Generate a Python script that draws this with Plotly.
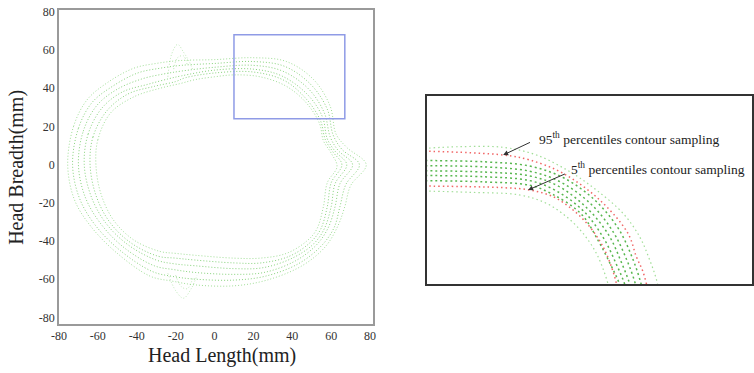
import plotly.graph_objects as go

# ---------------- main chart contour rings (Head Length, Head Breadth in mm) ----------------
ring1_x = [-75.5, -72.5, -65.5, -55, -41.5, -30, -18, 0, 20, 37, 51, 59.5, 62.5, 68, 78, 70, 67, 63.5, 57, 45, 27, 10, -10, -22, -33, -50, -63.5, -72, -75.5]
ring1_y = [0, 20, 34, 43, 50.5, 53, 54.5, 55, 56, 54, 44.5, 30.5, 16, 9, 0, -11, -22, -32, -43, -53, -60.5, -63.5, -63, -61, -58.5, -46.5, -32.5, -18.5, 0]
ring2_x = [-73, -70, -63, -52.5, -39.5, -28, -17, 0, 20, 36, 49.5, 58, 61, 65.5, 74.5, 67.5, 64.5, 61.5, 55, 43, 26, 10, -10, -22, -32, -48.5, -61.5, -69.5, -73]
ring2_y = [0, 19, 32.5, 41, 48, 50.5, 52, 53, 54, 51.5, 42, 29, 15.5, 8, 0, -10.5, -22, -33, -42.5, -52, -58.5, -60.5, -60, -58.5, -56, -45, -31.5, -17.5, 0]
ring3_x = [-70, -67.5, -60.5, -50, -37, -26, -17, 0, 20, 35, 48.5, 56.5, 59.5, 63.5, 71, 64.5, 62, 58.5, 52.5, 41.5, 25.5, 10, -10, -21, -31, -46.5, -58.5, -66.5, -70]
ring3_y = [0, 17.5, 31, 39.5, 45, 47.5, 49, 51, 52, 49, 39.5, 27, 14.5, 7.5, 0, -10, -22, -33, -42, -50.5, -56.5, -57.5, -56.5, -55, -53, -43.5, -31, -17, 0]
ring4_x = [-67, -65, -58, -47.5, -34.5, -23.5, -17, 0, 20, 34.5, 48, 55.5, 58, 62, 68, 62, 60, 56.5, 51, 40, 25, 10, -10, -20.5, -30, -44.5, -56, -63.5, -67]
ring4_y = [0, 16, 29.5, 38, 42, 45, 46.5, 49.5, 50, 46.5, 36.5, 25, 13.5, 7, 0, -10, -22, -33.5, -41.5, -49, -54, -54.5, -53, -52, -50, -42, -30.5, -16.5, 0]
ring5_x = [-64, -62.5, -55.5, -44.5, -31, -20, -15, 0, 20, 36, 47.5, 54.5, 57, 61, 65.5, 60, 58, 54.5, 49, 38.5, 24, 10, -10, -20, -29, -43, -54, -61, -64]
ring5_y = [0, 14.5, 28, 37, 41, 43.5, 45.5, 48, 48.5, 44, 34, 23, 13, 6.5, 0, -9.5, -22, -34, -41, -48, -51.5, -51.5, -50, -49, -48, -41, -30, -16, 0]
ring6_x = [-61, -60, -53.5, -41.5, -28, -17.5, -10, 0, 10, 23.5, 37, 47.5, 54, 56, 60, 63, 58, 56, 52.5, 47.5, 37, 23.5, 10, -10, -20, -28, -41.5, -52, -58.5, -61]
ring6_y = [0, 13, 27, 35.5, 40, 42.5, 44.5, 46, 47, 46, 41, 32, 21.5, 12.5, 6, -1, -9.5, -22, -34, -40, -46.5, -49, -49, -47.5, -46.5, -45.5, -39.5, -29, -15, 0]

ear_top_x = [-24, -22, -19, -16, -13, -11]
ear_top_y = [46, 58, 63, 59, 54, 49]
ear_top2_x = [-21, -19, -16, -14]
ear_top2_y = [50, 56, 57, 52]
ear_bot_x = [-24, -20, -16, -12, -9]
ear_bot_y = [-57, -66, -70, -65, -58]
ear_bot2_x = [-20, -17, -14, -11]
ear_bot2_y = [-58, -64, -65, -59]

# zoom window on main chart
zoom_x = [10, 67]
zoom_y = [24, 68]

# ---------------- inset contours ----------------
in_gout_x = [8.78, 15.77, 23.34, 29.17, 35.0, 39.66, 44.32, 47.23, 49.0, 50.2, 51.02]
in_gout_y = [55.68, 56.14, 55.99, 54.19, 50.29, 46.0, 40.54, 35.08, 29.62, 24.94, 19.48]
in_p95_x = [8.78, 23.34, 28.0, 33.83, 40.25, 45.19, 46.66, 47.82, 48.69, 49.27]
in_p95_y = [55.13, 54.19, 53.02, 49.9, 43.66, 35.86, 30.4, 26.89, 22.6, 19.48]
in_m1_x = [8.78, 20, 28, 34, 39.5, 43.5, 46, 47.5, 48.3]
in_m1_y = [52.9, 52.6, 51.6, 48.8, 43.5, 37, 30, 24, 19.5]
in_m2_x = [8.78, 20, 28, 33.5, 38.8, 42.6, 45, 46.5, 47.3]
in_m2_y = [51.7, 51.4, 50.4, 47.8, 42.6, 36.2, 29.6, 24, 19.5]
in_m3_x = [8.78, 20, 28, 33, 38, 41.8, 44, 45.5, 46.3]
in_m3_y = [50.5, 50.2, 49.3, 46.9, 41.8, 35.5, 29.2, 24, 19.5]
in_m4_x = [8.78, 20, 28, 32.5, 37.4, 40.9, 43.1, 44.6, 45.4]
in_m4_y = [49.4, 49.1, 48.2, 45.9, 41.1, 34.8, 28.8, 24, 19.5]
in_m5_x = [8.78, 20, 28, 32, 37, 40, 42.2, 43.7, 44.5]
in_m5_y = [48.2, 47.9, 47.1, 45, 40.4, 34.1, 28.4, 24, 19.5]
in_p5_x = [8.78, 17.51, 23.34, 28.0, 32.08, 35.58, 38.49, 40.82, 42.29, 43.16, 43.74]
in_p5_y = [46.94, 46.78, 46.55, 46.0, 44.44, 41.32, 37.42, 32.74, 28.06, 24.16, 19.48]
in_gin_x = [8.78, 17.51, 26.25, 30.92, 34.42, 37.33, 39.66, 41.11, 41.99, 42.57]
in_gin_y = [45.77, 45.46, 44.83, 42.88, 39.76, 35.86, 31.18, 26.5, 22.6, 19.48]

label_95 = "95<sup>th</sup> percentiles contour sampling"
label_5 = "5<sup>th</sup> percentiles contour sampling"

FONT = "Liberation Serif, Times New Roman, serif"
LIGHT_GREEN = "rgba(110,205,95,0.65)"
EAR_GREEN = "rgba(110,205,95,0.45)"
MID_GREEN = "rgba(95,195,80,0.75)"
DARK_GREEN = "rgba(70,175,60,0.9)"
RED = "rgba(240,95,95,0.95)"

fig = go.Figure()

rings = [(ring1_x, ring1_y), (ring2_x, ring2_y), (ring3_x, ring3_y),
         (ring4_x, ring4_y), (ring5_x, ring5_y), (ring6_x, ring6_y)]
for i, (rx, ry) in enumerate(rings):
    fig.add_trace(go.Scatter(
        x=rx, y=ry, mode="lines", line_shape="spline",
        line=dict(color=LIGHT_GREEN if i in (0, 5) else MID_GREEN, width=1, dash="1px,2px"),
        xaxis="x", yaxis="y", hoverinfo="skip", showlegend=False))

for ex, ey in [(ear_top_x, ear_top_y), (ear_top2_x, ear_top2_y), (ear_bot_x, ear_bot_y), (ear_bot2_x, ear_bot2_y)]:
    fig.add_trace(go.Scatter(
        x=ex, y=ey, mode="lines", line_shape="spline",
        line=dict(color=EAR_GREEN, width=1, dash="1px,2px"),
        xaxis="x", yaxis="y", hoverinfo="skip", showlegend=False))

# inset
inset_curves = [
    (in_gout_x, in_gout_y, LIGHT_GREEN, 1.2, "1.5px,3px"),
    (in_p95_x, in_p95_y, RED, 1.5, "1.5px,3px"),
    (in_m1_x, in_m1_y, DARK_GREEN, 1.5, "2px,3px"),
    (in_m2_x, in_m2_y, DARK_GREEN, 1.5, "2px,3px"),
    (in_m3_x, in_m3_y, DARK_GREEN, 1.5, "2px,3px"),
    (in_m4_x, in_m4_y, DARK_GREEN, 1.5, "2px,3px"),
    (in_m5_x, in_m5_y, DARK_GREEN, 1.5, "2px,3px"),
    (in_p5_x, in_p5_y, RED, 1.5, "1.5px,3px"),
    (in_gin_x, in_gin_y, LIGHT_GREEN, 1.2, "1.5px,3px"),
]
for cx, cy, col, w, d in inset_curves:
    fig.add_trace(go.Scatter(
        x=cx, y=cy, mode="lines", line_shape="spline",
        line=dict(color=col, width=w, dash=d),
        xaxis="x2", yaxis="y2", hoverinfo="skip", showlegend=False))

fig.add_shape(type="rect", xref="x", yref="y", x0=zoom_x[0], x1=zoom_x[1], y0=zoom_y[0], y1=zoom_y[1],
              line=dict(color="#8f9be6", width=1.5), fillcolor="rgba(0,0,0,0)")

tick_vals = [-80, -60, -40, -20, 0, 20, 40, 60, 80]
axis_common = dict(showgrid=False, zeroline=False, showline=True, mirror=True, automargin=False,
                   linecolor="#9a9a9a", linewidth=1.5, ticks="",
                   tickfont=dict(family=FONT, size=12, color="#333"),
                   tickvals=tick_vals, ticktext=[str(v) for v in tick_vals])
inset_axis = dict(showgrid=False, zeroline=False, showticklabels=False, ticks="", automargin=False,
                  showline=True, mirror=True, linecolor="#333", linewidth=1.5)

fig.update_layout(
    width=754, height=373,
    margin=dict(l=0, r=0, t=0, b=0, autoexpand=False),
    paper_bgcolor="white", plot_bgcolor="white",
    showlegend=False,
    xaxis=dict(domain=[0.0782, 0.4947], range=[-80, 81.5], **axis_common),
    yaxis=dict(domain=[0.1314, 0.9732], range=[-83.5, 81], **axis_common),
    xaxis2=dict(domain=[0.5663, 0.9980], range=[zoom_x[0], zoom_x[1]], anchor="y2", **inset_axis),
    yaxis2=dict(domain=[0.2386, 0.7426], range=[zoom_y[0], zoom_y[1]], anchor="x2", **inset_axis),
    annotations=[
        dict(text="Head Length(mm)", xref="paper", yref="paper", x=0.2944, y=0.01,
             xanchor="center", yanchor="bottom", showarrow=False,
             font=dict(family=FONT, size=20, color="#222")),
        dict(text="Head Breadth(mm)", xref="paper", yref="paper", x=0.003, y=0.552,
             xanchor="left", yanchor="middle", textangle=-90, showarrow=False,
             font=dict(family=FONT, size=20, color="#222")),
        dict(text=label_95, xref="x2", yref="y2", x=29.23, y=58.17, xanchor="left", yanchor="middle",
             showarrow=False, font=dict(family=FONT, size=13.5, color="#222")),
        dict(text=label_5, xref="x2", yref="y2", x=34.82, y=50.92, xanchor="left", yanchor="middle",
             showarrow=False, font=dict(family=FONT, size=13.5, color="#222")),
        dict(text="", xref="x2", yref="y2", x=23.34, y=54.19, axref="x2", ayref="y2", ax=28.3, ay=57.31,
             showarrow=True, arrowhead=2, arrowsize=1, arrowwidth=1, arrowcolor="#333"),
        dict(text="", xref="x2", yref="y2", x=27.71, y=46.0, axref="x2", ayref="y2", ax=34.42, ay=49.91,
             showarrow=True, arrowhead=2, arrowsize=1, arrowwidth=1, arrowcolor="#333"),
    ],
)

fig.write_html("out.html",
               config={"displayModeBar": False},
               post_script="document.body.style.margin='0';document.body.style.overflow='hidden';")
